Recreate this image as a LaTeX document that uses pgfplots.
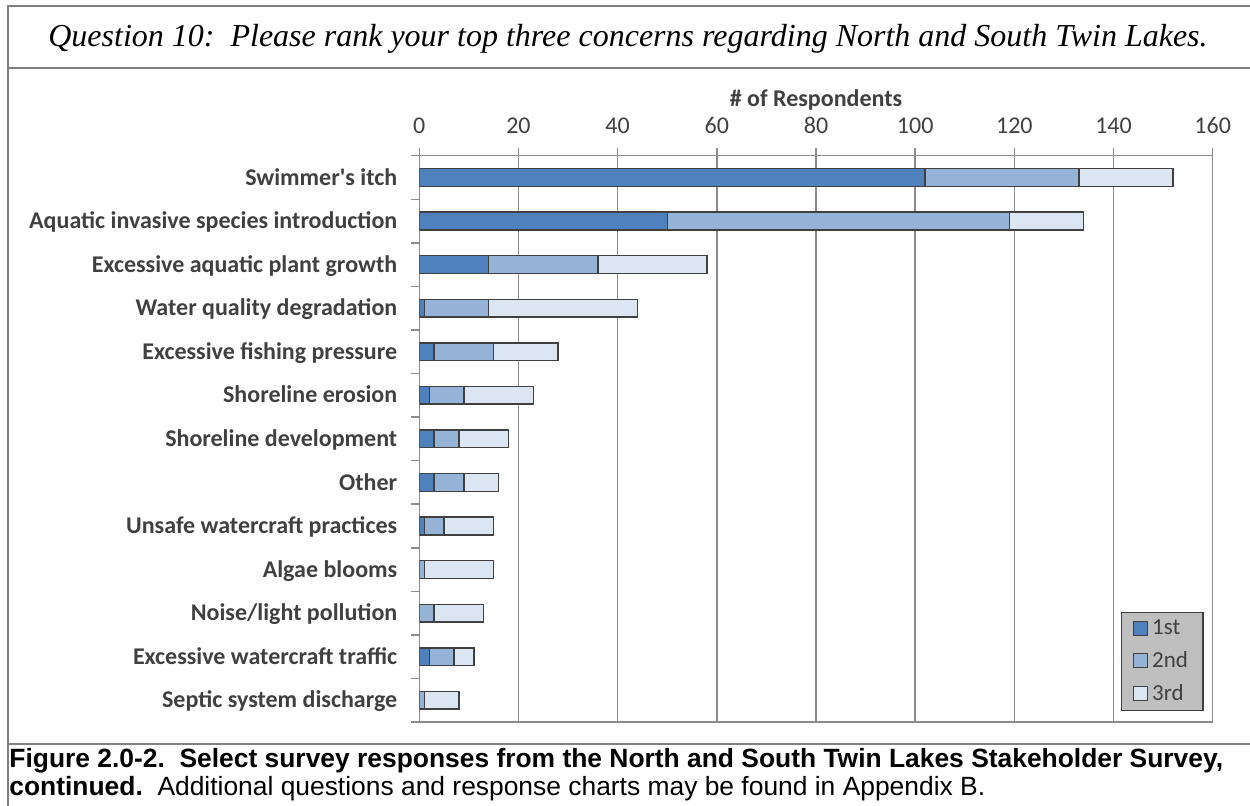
\documentclass[border=0pt]{standalone}
\usepackage{fontspec}
\setmainfont{Carlito}[Ligatures=TeXOff]
\newfontfamily\titlefont{Liberation Serif}
\newfontfamily\capfont{Liberation Sans}
\usepackage{pgfplots}
\usepackage{pgfplotstable}
\pgfplotsset{compat=1.18}
\definecolor{c1}{HTML}{4F81BD}
\definecolor{c2}{HTML}{95B3D7}
\definecolor{c3}{HTML}{DCE6F2}
\definecolor{edge}{HTML}{404040}
\definecolor{gridc}{HTML}{8C8C8C}
\definecolor{framec}{HTML}{808080}
\definecolor{txt}{HTML}{404040}

\pgfplotstableread{
y first second third
12 102 31 19
11 50 69 15
10 14 22 22
9 1 13 30
8 3 12 13
7 2 7 14
6 3 5 10
5 3 6 7
4 1 4 10
3 0 1 14
2 0 3 10
1 2 5 4
0 0 1 7
}\datatable

\begin{document}
\begin{tikzpicture}
\useasboundingbox (0,0) rectangle (625pt,-403pt);
\draw[framec, line width=1pt] (625pt,-3.25pt) -- (3.75pt,-3.25pt) -- (3.75pt,-403pt);
\draw[framec, line width=1pt] (3.75pt,-34.25pt) -- (625pt,-34.25pt);
\draw[framec, line width=1pt] (3.75pt,-372pt) -- (625pt,-372pt);
\node[anchor=base, font=\titlefont\itshape\fontsize{16}{19}\selectfont, inner sep=0pt] at (314pt,-23.35pt) {Question 10:\ \ Please rank your top three concerns regarding North and South Twin Lakes.};
\node[anchor=base west, inner sep=0pt, font=\capfont\bfseries\fontsize{13.2}{15.8}\selectfont] at (4.5pt,-384pt) {Figure 2.0-2.\ \ Select survey responses from the North and South Twin Lakes Stakeholder Survey,};
\node[anchor=base west, inner sep=0pt, font=\capfont\fontsize{13.2}{15.8}\selectfont] at (4.5pt,-398pt) {\textbf{continued.}\ \ Additional questions and response charts may be found in Appendix B.};

\begin{axis}[
  at={(209.65pt,-77.85pt)}, anchor=north west,
  scale only axis, width=396.7pt, height=283.2pt,
  xbar stacked, bar width=8.85pt,
  xmin=0, xmax=160, ymin=-0.5, ymax=12.5,
  xtick={0,20,...,160}, xtick pos=upper, xticklabel pos=upper,
  tick align=outside, major tick length=4pt,
  xmajorgrids, grid style={gridc, line width=0.75pt},
  axis line style={gridc, line width=0.75pt},
  tick style={gridc, line width=0.75pt},
  /pgf/number format/assume math mode=true,
  typeset ticklabels with strut,
  ticklabel style={font=\fontsize{12}{14}\selectfont, text=txt},
  xticklabel style={yshift=-0.5pt},
  ytick={-0.5,0.5,...,12.5}, yticklabels={}, ytick pos=left,
  extra y ticks={0,1,2,3,4,5,6,7,8,9,10,11,12},
  extra y tick labels={Septic system discharge, Excessive watercraft traffic, Noise/light pollution, Algae blooms, Unsafe watercraft practices, Other, Shoreline development, Shoreline erosion, Excessive fishing pressure, Water quality degradation, Excessive aquatic plant growth, Aquatic invasive species introduction, Swimmer's itch},
  extra y tick style={major tick length=0pt, grid=none, yticklabel style={font=\bfseries\fontsize{12}{14}\selectfont, text=txt, xshift=-7.5pt, yshift=-1pt}},
  xlabel={\# of Respondents},
  xlabel style={font=\bfseries\fontsize{12}{14}\selectfont, text=txt, at={(axis description cs:0.5,1)}, anchor=center, yshift=28pt},
  legend style={at={(axis description cs:0.8844,0.1948)}, anchor=north west, fill=black!25, draw=edge, line width=0.75pt, font=\fontsize{11.5}{13}\selectfont, text=txt, row sep=3pt, inner xsep=5.5pt, inner ysep=1.5pt},
  legend cell align=left,
  legend image code/.code={\draw[#1] (0pt,-3.5pt) rectangle (7pt,3.5pt);},
]
\addplot[fill=c1, draw=edge, line width=0.7pt] table[x=first, y=y] \datatable;
\addplot[fill=c2, draw=edge, line width=0.7pt] table[x=second, y=y] \datatable;
\addplot[fill=c3, draw=edge, line width=0.7pt] table[x=third, y=y] \datatable;
\legend{1st, 2nd, 3rd}
\end{axis}
\end{tikzpicture}
\end{document}
